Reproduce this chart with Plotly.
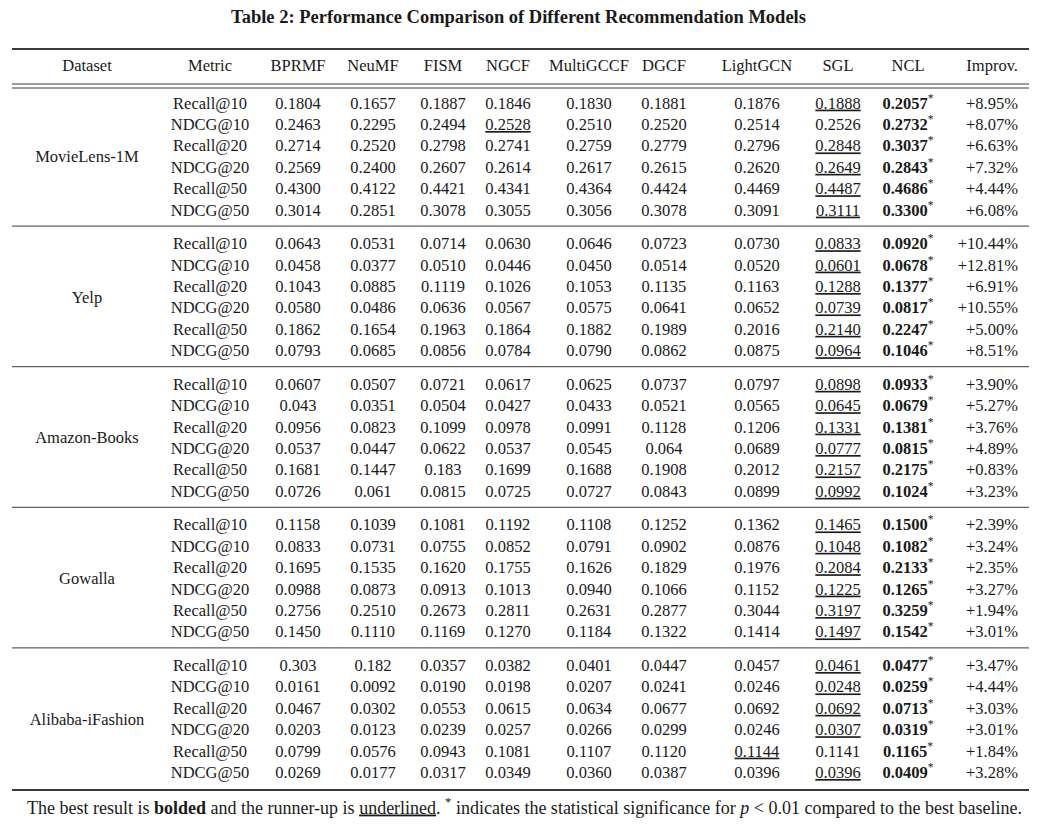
import plotly.graph_objects as go

datasets = ["MovieLens-1M", "Yelp", "Amazon-Books", "Gowalla", "Alibaba-iFashion"]
metrics = ["Recall@10", "NDCG@10", "Recall@20", "NDCG@20", "Recall@50", "NDCG@50"]
models = ["BPRMF", "NeuMF", "FISM", "NGCF", "MultiGCCF", "DGCF", "LightGCN", "SGL", "NCL"]

# values per model, 6 metrics for each of the 5 datasets (as printed in the table)
bprmf = ["0.1804", "0.2463", "0.2714", "0.2569", "0.4300", "0.3014",
         "0.0643", "0.0458", "0.1043", "0.0580", "0.1862", "0.0793",
         "0.0607", "0.043", "0.0956", "0.0537", "0.1681", "0.0726",
         "0.1158", "0.0833", "0.1695", "0.0988", "0.2756", "0.1450",
         "0.303", "0.0161", "0.0467", "0.0203", "0.0799", "0.0269"]
neumf = ["0.1657", "0.2295", "0.2520", "0.2400", "0.4122", "0.2851",
         "0.0531", "0.0377", "0.0885", "0.0486", "0.1654", "0.0685",
         "0.0507", "0.0351", "0.0823", "0.0447", "0.1447", "0.061",
         "0.1039", "0.0731", "0.1535", "0.0873", "0.2510", "0.1110",
         "0.182", "0.0092", "0.0302", "0.0123", "0.0576", "0.0177"]
fism = ["0.1887", "0.2494", "0.2798", "0.2607", "0.4421", "0.3078",
        "0.0714", "0.0510", "0.1119", "0.0636", "0.1963", "0.0856",
        "0.0721", "0.0504", "0.1099", "0.0622", "0.183", "0.0815",
        "0.1081", "0.0755", "0.1620", "0.0913", "0.2673", "0.1169",
        "0.0357", "0.0190", "0.0553", "0.0239", "0.0943", "0.0317"]
ngcf = ["0.1846", "0.2528", "0.2741", "0.2614", "0.4341", "0.3055",
        "0.0630", "0.0446", "0.1026", "0.0567", "0.1864", "0.0784",
        "0.0617", "0.0427", "0.0978", "0.0537", "0.1699", "0.0725",
        "0.1192", "0.0852", "0.1755", "0.1013", "0.2811", "0.1270",
        "0.0382", "0.0198", "0.0615", "0.0257", "0.1081", "0.0349"]
multigccf = ["0.1830", "0.2510", "0.2759", "0.2617", "0.4364", "0.3056",
             "0.0646", "0.0450", "0.1053", "0.0575", "0.1882", "0.0790",
             "0.0625", "0.0433", "0.0991", "0.0545", "0.1688", "0.0727",
             "0.1108", "0.0791", "0.1626", "0.0940", "0.2631", "0.1184",
             "0.0401", "0.0207", "0.0634", "0.0266", "0.1107", "0.0360"]
dgcf = ["0.1881", "0.2520", "0.2779", "0.2615", "0.4424", "0.3078",
        "0.0723", "0.0514", "0.1135", "0.0641", "0.1989", "0.0862",
        "0.0737", "0.0521", "0.1128", "0.064", "0.1908", "0.0843",
        "0.1252", "0.0902", "0.1829", "0.1066", "0.2877", "0.1322",
        "0.0447", "0.0241", "0.0677", "0.0299", "0.1120", "0.0387"]
lightgcn = ["0.1876", "0.2514", "0.2796", "0.2620", "0.4469", "0.3091",
            "0.0730", "0.0520", "0.1163", "0.0652", "0.2016", "0.0875",
            "0.0797", "0.0565", "0.1206", "0.0689", "0.2012", "0.0899",
            "0.1362", "0.0876", "0.1976", "0.1152", "0.3044", "0.1414",
            "0.0457", "0.0246", "0.0692", "0.0246", "0.1144", "0.0396"]
sgl = ["0.1888", "0.2526", "0.2848", "0.2649", "0.4487", "0.3111",
       "0.0833", "0.0601", "0.1288", "0.0739", "0.2140", "0.0964",
       "0.0898", "0.0645", "0.1331", "0.0777", "0.2157", "0.0992",
       "0.1465", "0.1048", "0.2084", "0.1225", "0.3197", "0.1497",
       "0.0461", "0.0248", "0.0692", "0.0307", "0.1141", "0.0396"]
ncl = ["0.2057", "0.2732", "0.3037", "0.2843", "0.4686", "0.3300",
       "0.0920", "0.0678", "0.1377", "0.0817", "0.2247", "0.1046",
       "0.0933", "0.0679", "0.1381", "0.0815", "0.2175", "0.1024",
       "0.1500", "0.1082", "0.2133", "0.1265", "0.3259", "0.1542",
       "0.0477", "0.0259", "0.0713", "0.0319", "0.1165", "0.0409"]
improv = ["+8.95%", "+8.07%", "+6.63%", "+7.32%", "+4.44%", "+6.08%",
          "+10.44%", "+12.81%", "+6.91%", "+10.55%", "+5.00%", "+8.51%",
          "+3.90%", "+5.27%", "+3.76%", "+4.89%", "+0.83%", "+3.23%",
          "+2.39%", "+3.24%", "+2.35%", "+3.27%", "+1.94%", "+3.01%",
          "+3.47%", "+4.44%", "+3.03%", "+3.01%", "+1.84%", "+3.28%"]
# underlined runner-up for each row
runner_up = ["SGL", "NGCF", "SGL", "SGL", "SGL", "SGL"] + ["SGL"] * 6 + ["SGL"] * 6 + ["SGL"] * 6 + \
            ["SGL", "SGL", "SGL", "SGL", "LightGCN", "SGL"]

values = dict(zip(models, [bprmf, neumf, fism, ngcf, multigccf, dgcf, lightgcn, sgl, ncl]))

W, H = 1037, 830
PAD = 8  # default body margin of the html page
FONT = "Liberation Serif"
SIZE = 16.5
INK = "#1a1a1a"
RULE = "#3a3a3a"

col_x = {"Dataset": 87, "Metric": 210, "BPRMF": 298, "NeuMF": 373, "FISM": 443, "NGCF": 508,
         "MultiGCCF": 589, "DGCF": 664, "LightGCN": 757, "SGL": 838, "NCL": 908}
improv_right = 1018
first_row, row_pitch, block_pitch = 104.5, 21.4, 140.6
header_y = 67
left, right = 12, 1030

n_rows = len(datasets) * len(metrics)
row_y = [first_row + (i // 6) * block_pitch + (i % 6) * row_pitch for i in range(n_rows)]

fig = go.Figure()

def text_trace(xs, ys, texts, pos="middle center", size=SIZE):
    fig.add_trace(go.Scatter(x=xs, y=ys, text=texts, mode="text", textposition=pos,
                             textfont=dict(family=FONT, size=size, color=INK),
                             hoverinfo="skip", showlegend=False))

# header
heads = ["Dataset", "Metric"] + models
text_trace([col_x[h] for h in heads], [header_y] * len(heads), heads)
text_trace([improv_right], [header_y], ["Improv."], pos="middle left")

# dataset names, centred on their block
text_trace([col_x["Dataset"]] * len(datasets),
           [first_row + b * block_pitch + 2.5 * row_pitch for b in range(len(datasets))], datasets)

# metric names
text_trace([col_x["Metric"]] * n_rows, row_y, metrics * len(datasets))

for m in models:
    texts = []
    for i, v in enumerate(values[m]):
        if m == "NCL":
            texts.append("<b>%s</b><sup>*</sup>" % v)
        elif runner_up[i] == m:
            texts.append("<u>%s</u>" % v)
        else:
            texts.append(v)
    text_trace([col_x[m]] * n_rows, row_y, texts)

text_trace([improv_right] * n_rows, row_y, improv, pos="middle left")

# rules
def rule(y, w=1):
    fig.add_shape(type="line", xref="x", yref="y", x0=left, x1=right, y0=y, y1=y,
                  line=dict(color=RULE, width=w))

rule(49, 2)
rule(84)
rule(88)
for b in range(1, len(datasets)):
    rule(first_row + b * block_pitch - 19)
rule(first_row + (len(datasets) - 1) * block_pitch + 5 * row_pitch + 16, 2)

fig.add_annotation(x=W / 2, y=17, xref="x", yref="y", showarrow=False,
                   text="<b>Table 2: Performance Comparison of Different Recommendation Models</b>",
                   font=dict(family=FONT, size=18.5, color=INK))
fig.add_annotation(x=524, y=806, xref="x", yref="y", showarrow=False,
                   text="The best result is <b>bolded</b> and the runner-up is <u>underlined</u>. "
                        "<sup>*</sup> indicates the statistical significance for <i>p</i> &lt; 0.01 "
                        "compared to the best baseline.",
                   font=dict(family=FONT, size=18, color=INK))

# axes in page pixels, shifted for the page margin
fig.update_xaxes(range=[PAD, W - PAD], visible=False, fixedrange=True)
fig.update_yaxes(range=[H - PAD, PAD], visible=False, fixedrange=True)
fig.update_layout(width=W - 2 * PAD, height=H - 2 * PAD, margin=dict(l=0, r=0, t=0, b=0),
                  plot_bgcolor="white", paper_bgcolor="white")

fig.write_html("out.html")
